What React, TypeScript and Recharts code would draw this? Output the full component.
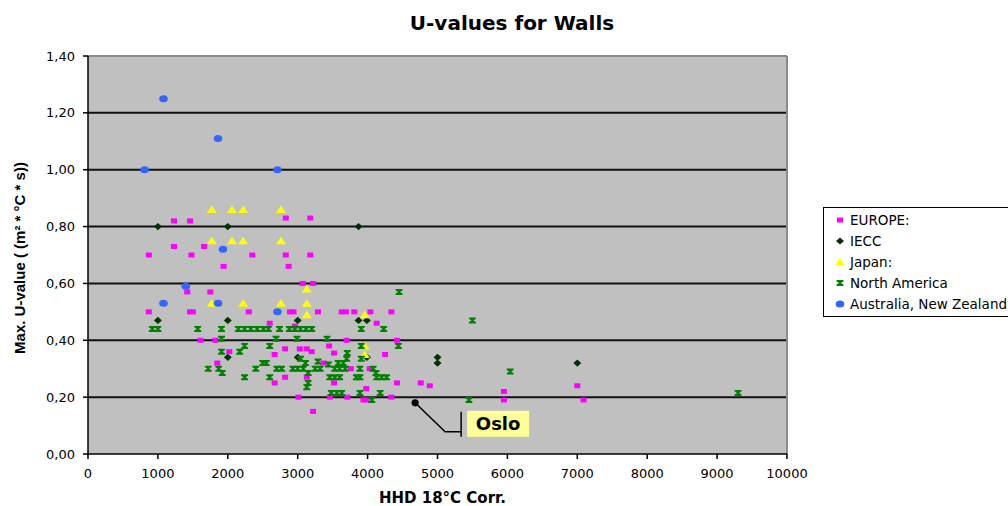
import React from 'react';
import {
  ScatterChart,
  Scatter,
  XAxis,
  YAxis,
  CartesianGrid,
  Legend,
  ReferenceLine,
  ReferenceDot,
  Label,
} from 'recharts';

type P = [number, number];

// ---------- data ----------
const chartTitle = 'U-values for Walls';
const xAxisTitle = 'HHD 18°C Corr.';
const yAxisTitle = 'Max. U-value ( (m² * °C * s))';

const seriesNames = ['EUROPE:', 'IECC', 'Japan:', 'North America', 'Australia, New Zealand'];

const europe: P[] = [
  [1230, 0.82], [1460, 0.82], [2830, 0.83], [3180, 0.83],
  [1230, 0.73], [1660, 0.73],
  [870, 0.7], [1480, 0.7], [2350, 0.7], [2830, 0.7], [3180, 0.7],
  [1940, 0.66], [2870, 0.66],
  [3070, 0.6], [3220, 0.6],
  [1420, 0.57], [1750, 0.57],
  [870, 0.5], [1460, 0.5], [1500, 0.5], [2300, 0.5], [2890, 0.5], [2940, 0.5], [3290, 0.5],
  [3630, 0.5], [3690, 0.5], [3810, 0.5], [4040, 0.5], [4340, 0.5],
  [2600, 0.46], [2960, 0.45], [4130, 0.46],
  [1610, 0.4], [1820, 0.4], [3700, 0.4], [4420, 0.4],
  [3450, 0.38], [2820, 0.37], [3030, 0.37], [3130, 0.37],
  [2020, 0.36], [3200, 0.36], [3520, 0.355], [2670, 0.35], [4250, 0.35],
  [1850, 0.32], [3370, 0.32],
  [3760, 0.3], [4030, 0.3],
  [2820, 0.27], [3130, 0.27],
  [2670, 0.25], [3520, 0.25], [4420, 0.25], [4760, 0.25],
  [4890, 0.24], [7000, 0.24],
  [3980, 0.23], [5950, 0.22],
  [3010, 0.2], [3460, 0.2], [3710, 0.2], [4340, 0.2],
  [3940, 0.19], [3980, 0.19], [5950, 0.19], [7090, 0.19],
  [3220, 0.15],
];

const iecc: P[] = [
  [1000, 0.8], [2000, 0.8], [3870, 0.8],
  [1000, 0.47], [2000, 0.47], [3000, 0.47], [3870, 0.47], [3990, 0.47],
  [2000, 0.34], [3000, 0.34], [3990, 0.34],
  [5000, 0.34], [5000, 0.32], [7000, 0.32],
];

const japan: P[] = [
  [1770, 0.86], [2060, 0.86], [2220, 0.86], [2760, 0.86],
  [1770, 0.75], [2060, 0.75], [2220, 0.75], [2760, 0.75],
  [1770, 0.53], [2220, 0.53], [2760, 0.53],
  [3130, 0.58], [3130, 0.53], [3130, 0.49],
  [3960, 0.49], [3960, 0.38], [3960, 0.35],
];

const northAmerica: P[] = [
  [920, 0.44], [1000, 0.44], [1570, 0.44], [1910, 0.44], [2150, 0.44], [2240, 0.44],
  [2330, 0.44], [2420, 0.44], [2510, 0.44], [2580, 0.44], [2740, 0.44], [2880, 0.44],
  [2960, 0.44], [3040, 0.44], [3120, 0.44], [3200, 0.44], [3910, 0.44], [4230, 0.44],
  [1910, 0.405], [2690, 0.405], [2990, 0.405], [3420, 0.405],
  [2240, 0.38], [2600, 0.38], [3910, 0.38], [4440, 0.38],
  [1910, 0.36], [2170, 0.36], [3710, 0.355],
  [3040, 0.335], [3700, 0.335], [3910, 0.335],
  [2500, 0.32], [2550, 0.32], [3110, 0.32], [3290, 0.325], [3440, 0.315], [3580, 0.32], [3650, 0.32],
  [1720, 0.3], [1870, 0.3], [2400, 0.3], [2700, 0.3], [2770, 0.3], [2930, 0.3], [3000, 0.3],
  [3080, 0.3], [3250, 0.3], [3320, 0.3], [3530, 0.3], [3600, 0.3], [3680, 0.3], [3890, 0.3], [4080, 0.3],
  [1920, 0.285], [3150, 0.285], [4120, 0.285],
  [2240, 0.27], [2600, 0.27], [3460, 0.27], [3530, 0.27], [3600, 0.27], [3840, 0.27],
  [3890, 0.27], [4130, 0.27], [4200, 0.27], [4270, 0.27],
  [3150, 0.25], [3130, 0.235],
  [3480, 0.215], [3560, 0.215], [3630, 0.215], [3890, 0.215], [4180, 0.215], [9300, 0.215],
  [4060, 0.19], [5450, 0.19],
  [4450, 0.57], [5500, 0.47], [6040, 0.29],
];

const australiaNZ: P[] = [
  [810, 1.0], [1080, 1.25], [1860, 1.11], [2710, 1.0],
  [1930, 0.72], [1400, 0.59], [1080, 0.53], [1860, 0.53], [2710, 0.5],
];

const xTicks = [0, 1000, 2000, 3000, 4000, 5000, 6000, 7000, 8000, 9000, 10000];
const yTicks = [0, 0.2, 0.4, 0.6, 0.8, 1.0, 1.2, 1.4];
const gridValues = [0.2, 0.4, 0.6, 0.8, 1.0, 1.2];

const osloPoint: P = [4680, 0.18];
const osloLabel = 'Oslo';

// ---------- styling ----------
const COLORS = {
  europe: '#FF00FF',
  iecc: '#003300',
  japan: '#FFFF00',
  na: '#008000',
  aus: '#3366FF',
};

const toRows = (pts: P[]) => pts.map(([x, y]) => ({ x, y }));

const markerPath = (kind: string, cx: number, cy: number) => {
  switch (kind) {
    case 'square':
      return <rect x={cx - 3} y={cy - 2.5} width={6} height={5} fill={COLORS.europe} />;
    case 'diamond':
      return (
        <path
          d={`M${cx},${cy - 3.6} L${cx + 4},${cy} L${cx},${cy + 3.6} L${cx - 4},${cy} Z`}
          fill={COLORS.iecc}
        />
      );
    case 'triangle':
      return (
        <path
          d={`M${cx},${cy - 4} L${cx + 5},${cy + 3.5} L${cx - 5},${cy + 3.5} Z`}
          fill={COLORS.japan}
        />
      );
    case 'x':
      return (
        <path
          d={`M${cx - 3.5},${cy - 3} H${cx + 3.5} V${cy - 1.6} L${cx + 1},${cy} L${cx + 3.5},${cy + 1.6} V${cy + 3} H${cx - 3.5} V${cy + 1.6} L${cx - 1},${cy} L${cx - 3.5},${cy - 1.6} Z`}
          fill={COLORS.na}
        />
      );
    default:
      return <ellipse cx={cx} cy={cy} rx={4.3} ry={3.5} fill={COLORS.aus} />;
  }
};

const markerKinds: Record<string, string> = {
  'EUROPE:': 'square',
  IECC: 'diamond',
  'Japan:': 'triangle',
  'North America': 'x',
  'Australia, New Zealand': 'circle',
};

const makeShape = (kind: string) => (props: any) => {
  const { cx, cy } = props;
  if (cx == null || cy == null) return <g />;
  return markerPath(kind, cx, cy);
};

const fmtY = (v: number) => v.toFixed(2).replace('.', ',');

const renderLegend = (props: any) => {
  const payload = [...(props.payload || [])].sort(
    (a: any, b: any) => seriesNames.indexOf(a.value) - seriesNames.indexOf(b.value)
  );
  return (
    <div
      style={{
        border: '1px solid #000',
        background: '#fff',
        padding: '2px 0 2px 10px',
        width: 200,
        boxSizing: 'border-box',
        fontFamily: 'DejaVu Sans',
        fontSize: 13.5,
        color: '#000',
        whiteSpace: 'nowrap',
      }}
    >
      {payload.map((entry: any) => (
        <div
          key={entry.value}
          style={{ display: 'flex', alignItems: 'center', height: 20.8 }}
        >
          <svg width={12} height={10} style={{ display: 'block' }}>
            {markerPath(markerKinds[entry.value], 6, 5)}
          </svg>
          <span style={{ marginLeft: 4 }}>{entry.value}</span>
        </div>
      ))}
    </div>
  );
};

const OsloMarker = (props: any) => {
  const { cx, cy } = props;
  if (cx == null || cy == null) return <g />;
  return (
    <g>
      <circle cx={cx} cy={cy} r={3.6} fill="#000" />
      <polyline
        points={`${cx},${cy} ${cx + 30},${cy + 29} ${cx + 46},${cy + 29}`}
        fill="none"
        stroke="#000"
        strokeWidth={1.5}
      />
      <line x1={cx + 46} y1={cy + 9} x2={cx + 46} y2={cy + 34} stroke="#000" strokeWidth={1.5} />
      <rect x={cx + 52} y={cy + 8} width={62} height={26} fill="#FFFF99" />
      <text
        x={cx + 83}
        y={cy + 27.5}
        textAnchor="middle"
        fontFamily="DejaVu Sans"
        fontWeight="bold"
        fontSize={18}
        fill="#000"
      >
        {osloLabel}
      </text>
    </g>
  );
};

const XTitle = (props: any) => {
  const vb = props.viewBox || {};
  return (
    <text
      x={vb.x + vb.width / 2 + 5}
      y={vb.y + 49}
      textAnchor="middle"
      fontFamily="DejaVu Sans"
      fontWeight="bold"
      fontSize={15}
      fill="#000"
    >
      {xAxisTitle}
    </text>
  );
};

const YTitle = (props: any) => {
  const vb = props.viewBox || {};
  const x = vb.x + 19;
  const y = vb.y + vb.height / 2 + 3;
  return (
    <text
      x={x}
      y={y}
      transform={`rotate(-90, ${x}, ${y})`}
      textAnchor="middle"
      dominantBaseline="central"
      fontFamily="Liberation Sans"
      fontWeight="bold"
      fontSize={15}
      fill="#000"
    >
      {yAxisTitle}
    </text>
  );
};

const tickStyle = { fontFamily: 'DejaVu Sans', fontSize: 13, fill: '#000' };

export default function App() {
  const series = [
    { name: seriesNames[0], data: europe, kind: 'square', color: COLORS.europe },
    { name: seriesNames[1], data: iecc, kind: 'diamond', color: COLORS.iecc },
    { name: seriesNames[2], data: japan, kind: 'triangle', color: COLORS.japan },
    { name: seriesNames[3], data: northAmerica, kind: 'x', color: COLORS.na },
    { name: seriesNames[4], data: australiaNZ, kind: 'circle', color: COLORS.aus },
  ];
  return (
    <div
      style={{
        position: 'absolute',
        left: 0,
        top: 0,
        width: 1008,
        height: 506,
        overflow: 'hidden',
        background: '#fff',
      }}
    >
      <ScatterChart width={1008} height={506} margin={{ top: 56, right: 221, bottom: 22, left: 0 }}>
        <CartesianGrid
          horizontal
          vertical={false}
          horizontalValues={gridValues}
          fill="#C0C0C0"
          stroke="#111"
          strokeWidth={2}
        />
        <XAxis
          type="number"
          dataKey="x"
          domain={[0, 10000]}
          ticks={xTicks}
          interval={0}
          height={30}
          tickSize={5}
          tickMargin={10}
          tick={tickStyle}
          axisLine={{ stroke: '#000', strokeWidth: 1.5 }}
          tickLine={{ stroke: '#000', strokeWidth: 1.5 }}
        >
          <Label content={<XTitle />} />
        </XAxis>
        <YAxis
          type="number"
          dataKey="y"
          domain={[0, 1.4]}
          ticks={yTicks}
          interval={0}
          width={88}
          tickSize={5}
          tickMargin={8}
          tick={tickStyle}
          tickFormatter={fmtY}
          axisLine={{ stroke: '#000', strokeWidth: 1.5 }}
          tickLine={{ stroke: '#000', strokeWidth: 1.5 }}
        >
          <Label content={<YTitle />} />
        </YAxis>
        <ReferenceLine y={1.4} stroke="#8a8a8a" strokeWidth={2} />
        <ReferenceLine x={10000} stroke="#8a8a8a" strokeWidth={2} />
        {series.map((s) => (
          <Scatter
            key={s.name}
            name={s.name}
            data={toRows(s.data)}
            fill={s.color}
            shape={makeShape(s.kind)}
            isAnimationActive={false}
          />
        ))}
        <ReferenceDot x={osloPoint[0]} y={osloPoint[1]} r={3.6} shape={<OsloMarker />} />
        <Legend
          layout="vertical"
          align="center"
          verticalAlign="middle"
          itemSorter={null as any}
          wrapperStyle={{ left: 823, top: 207, width: 200 }}
          content={renderLegend}
        />
      </ScatterChart>
      <div
        style={{
          position: 'absolute',
          left: 312,
          top: 11,
          width: 400,
          textAlign: 'center',
          fontFamily: 'DejaVu Sans',
          fontWeight: 'bold',
          fontSize: 20,
          lineHeight: '24px',
          color: '#000',
        }}
      >
        {chartTitle}
      </div>
    </div>
  );
}
